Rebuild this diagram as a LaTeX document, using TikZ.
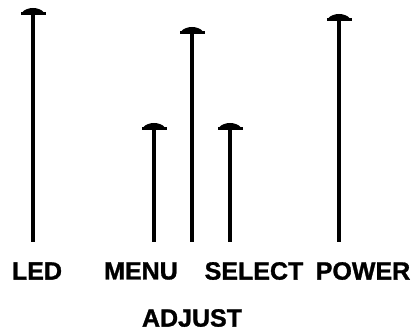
\documentclass[tikz,border=0pt]{standalone}
\usepackage{fontspec}
\newfontfamily\lblfont{Liberation Sans Bold}[FakeBold=1.2]
\usepackage{tikz}

\tikzset{
  lbl/.style={font=\lblfont\fontsize{25}{28}\selectfont,inner sep=0pt},
  pin/.style={line width=3.5pt},
}

\begin{document}
\begin{tikzpicture}[x=1pt,y=-1pt]
  \useasboundingbox (0,0) rectangle (415,331);
  % labels
  \node[lbl] (led) at (37,271) {LED};
  \node[lbl] (menu) at (141,271) {MENU};
  \node[lbl] (select) at (254,271) {SELECT};
  \node[lbl] (power) at (363,271) {POWER};
  \node[lbl] (adjust) at (192,318) {ADJUST};
  % pins with knobs
  \foreach \n/\x/\t in {led/33/15, menu/154/130, adjust/192/34, select/230/130, power/339/21} {
    \coordinate (\n-b) at (\x,242);
    \coordinate (\n-t) at (\x,\t);
    \draw[pin] (\n-b) -- (\n-t);
    \fill ([shift={(-12.5,0)}]\n-t) rectangle ([shift={(12.5,-3)}]\n-t);
    \fill ([shift={(-11,-2.5)}]\n-t) .. controls ([shift={(-6,-8.5)}]\n-t) and ([shift={(6,-8.5)}]\n-t) .. ([shift={(11,-2.5)}]\n-t) -- cycle;
  }
\end{tikzpicture}
\end{document}
